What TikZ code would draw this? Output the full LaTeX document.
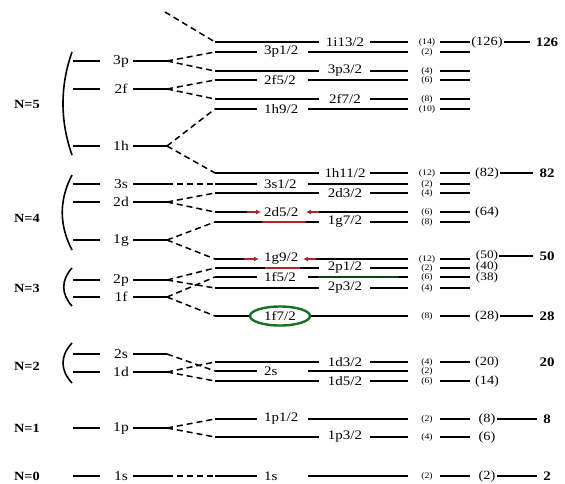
\documentclass[tikz,border=0pt]{standalone}
\usepackage{fontspec}
\setmainfont[FakeStretch=1.15]{Liberation Serif}
\usepackage{tikz}
\usetikzlibrary{arrows.meta,shapes.geometric}
\definecolor{hlred}{RGB}{180,35,35}
\definecolor{hlgreen}{RGB}{20,115,30}

\begin{document}
\begin{tikzpicture}[x=1pt,y=-1pt,
  lvl/.style={line width=1.8pt},
  split/.style={line width=1.5pt,dash pattern=on 6pt off 4pt},
  shell/.style={line width=1.6pt},
  nlab/.style={font=\fontsize{12.5}{14}\selectfont\bfseries,inner sep=0pt},
  llab/.style={font=\fontsize{13.5}{15}\selectfont,inner sep=0pt},
  jlab/.style={font=\fontsize{13}{15}\selectfont,inner sep=0pt},
  dlab/.style={font=\fontsize{8.5}{10}\selectfont,inner sep=0pt},
  cum/.style={font=\fontsize{12.5}{14}\selectfont,inner xsep=1pt,inner ysep=0pt},
  magic/.style={font=\fontsize{13}{15}\selectfont\bfseries,inner xsep=6pt,inner ysep=0pt}]
  \useasboundingbox (0,0) rectangle (565,483);

  % oscillator shells
  \foreach \n/\k/\y in {N5/5/104, N4/4/218, N3/3/288, N2/2/366, N1/1/428, N0/0/476}
    \node[nlab] (\n) at (27,\y) {N=\k};
  \draw[shell] (72,52) .. controls (60,86) and (60,121) .. (72,155);
  \draw[shell] (72,175) .. controls (59,200) and (59,225) .. (72,250);
  \draw[shell] (72,268) .. controls (61,280) and (61,294) .. (72,306);
  \draw[shell] (72,343) .. controls (60,356) and (60,370) .. (72,383);
  \foreach \n/\y in {3p/61, 2f/89, 1h/146, 3s/184, 2d/202, 1g/240, 2p/280, 1f/297, 2s/354, 1d/372, 1p/428, 1s/476} {
    \draw[lvl] (73,\y) -- (100,\y);
    \node[llab] (\n-l) at (121,\y) {\n};
    \draw[lvl] (133,\y) -- (167,\y) coordinate (\n);
  }
  \coordinate (N6) at (165,12);

  % spin-orbit levels, label left
  \foreach \n/\k/\y in {3p1/{3p1/2}/52, 2f5/{2f5/2}/80, 1h9/{1h9/2}/109, 3s1/{3s1/2}/184, 2d5/{2d5/2}/212, 1g9/{1g9/2}/259, 1f5/{1f5/2}/277, 2s1/2s/371, 1p1/{1p1/2}/419, 1s1/1s/476} {
    \coordinate (\n-s) at (215,\y);
    \coordinate (\n-e) at (408,\y);
    \node[jlab,anchor=west] (\n-l) at (264,\y) {\k};
    \draw[lvl] (\n-s) -- (257,\y) (308,\y) -- (\n-e);
  }
  % spin-orbit levels, label right
  \foreach \n/\k/\y in {1i13/{1i13/2}/42, 3p3/{3p3/2}/71, 2f7/{2f7/2}/99, 1h11/{1h11/2}/173, 2d3/{2d3/2}/193, 1g7/{1g7/2}/222, 2p1/{2p1/2}/268, 2p3/{2p3/2}/288, 1d3/{1d3/2}/362, 1d5/{1d5/2}/381, 1p3/{1p3/2}/437} {
    \coordinate (\n-s) at (215,\y);
    \coordinate (\n-e) at (408,\y);
    \node[jlab] (\n-l) at (345,\y) {\k};
    \draw[lvl] (\n-s) -- (319,\y) (370,\y) -- (\n-e);
  }
  \coordinate (1f7-s) at (215,316);
  \coordinate (1f7-e) at (408,316);
  \node[jlab,ellipse,draw=hlgreen,line width=2.4pt,minimum width=60pt,minimum height=19pt] (1f7-l) at (280,316) {1f7/2};
  \draw[lvl] (1f7-s) -- (1f7-l.west) (1f7-l.east) -- (1f7-e);

  % marks
  \draw[hlred,line width=1.8pt,-{Latex[length=5pt,width=5pt]}] (247,212) -- (261,212);
  \draw[hlred,line width=1.8pt,-{Latex[length=5pt,width=5pt]}] (319,212) -- (306,212);
  \draw[hlred,line width=1.8pt,-{Latex[length=5pt,width=5pt]}] (244,259) -- (259,259);
  \draw[hlred,line width=1.8pt,-{Latex[length=5pt,width=5pt]}] (316,259) -- (303,259);
  \draw[hlred,line width=2pt] (262,222) -- (306,222);
  \draw[hlred,line width=2pt] (265,268) -- (300,268);
  \draw[hlgreen!60!black,line width=2.2pt] (318,277) -- (398,277);

  % splitting
  \draw[split] (N6) -- (1i13-s);
  \foreach \a/\b in {3p/3p1, 3p/3p3, 2f/2f5, 2f/2f7, 1h/1h9, 1h/1h11, 3s/3s1, 2d/2d3, 2d/2d5, 1g/1g7, 1g/1g9, 2p/2p1, 2p/2p3, 1f/1f5, 1f/1f7, 2s/2s1, 1d/1d3, 1d/1d5, 1p/1p1, 1p/1p3, 1s/1s1}
    \draw[split] (\a) -- (\b-s);

  % occupation numbers
  \foreach \n/\dg in {1i13/14, 3p1/2, 3p3/4, 2f5/6, 2f7/8, 1h9/10, 1h11/12, 3s1/2, 2d3/4, 2d5/6, 1g7/8, 1g9/12, 2p1/2, 1f5/6, 2p3/4, 1f7/8, 1d3/4, 2s1/2, 1d5/6, 1p1/2, 1p3/4, 1s1/2}
    \node[dlab] (\n-d) at ([xshift=19pt]\n-e) {(\dg)};
  \foreach \n in {1i13, 3p1, 3p3, 2f5, 2f7, 1h9, 1h11, 3s1, 2d3, 2d5, 1g7, 1g9, 2p1, 1f5, 2p3, 1f7, 1d3, 1d5, 1p1, 1p3, 1s1}
    \draw[lvl] ([xshift=32pt]\n-e) -- ([xshift=62pt]\n-e);
  \foreach \n/\c in {1i13/126, 1h11/82, 2d5/64, 1f7/28, 1d3/20, 1d5/14, 1p1/8, 1p3/6, 1s1/2}
    \node[cum] (c\c) at ([xshift=79pt]\n-e) {(\c)};
  % stacked closures
  \foreach \n/\c/\dy in {1g9/50/3, 2p1/40/1, 1f5/38/-1}
    \node[cum,font=\fontsize{11.5}{13}\selectfont] (c\c) at ([xshift=79pt,yshift=\dy pt]\n-e) {(\c)};
  \foreach \c in {126, 82, 50, 28, 8, 2} {
    \node[magic] (m\c) at ([xshift=60pt]c\c) {\c};
    \draw[lvl] (c\c.east) -- (m\c.west);
  }
  \node[magic] (m20) at ([xshift=60pt]c20) {20};
\end{tikzpicture}
\end{document}
